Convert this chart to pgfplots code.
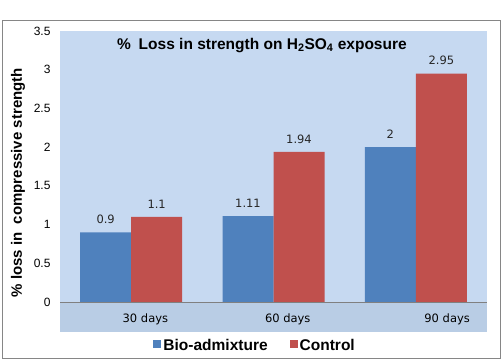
\documentclass[border=0pt]{standalone}
\usepackage{pgfplots}
\pgfplotsset{compat=1.18}
\usepackage{fontspec}
\setmainfont{Liberation Sans}
\newfontfamily\dejavu{DejaVu Sans}

\definecolor{bioblue}{HTML}{4F81BD}
\definecolor{ctrlred}{HTML}{C0504D}
\definecolor{wallbg}{HTML}{C6D9F1}
\definecolor{floorbg}{HTML}{B9CDE5}
\definecolor{framegray}{HTML}{868686}

\begin{document}
\begin{tikzpicture}[x=1pt,y=1pt]
  % canvas and chart frame
  \path (0,0) rectangle (503,360);
  \draw[framegray, line width=1pt] (2.5,1.5) rectangle (500.5,340);
  % back wall and floor of the plot area
  \fill[wallbg] (60,58) rectangle (487,329);
  \fill[floorbg] (60,28) rectangle (487,58);

  \begin{axis}[
    at={(60pt,58pt)}, anchor=south west,
    scale only axis, width=427pt, height=271pt,
    xmin=-0.5, xmax=2.5, ymin=0, ymax=3.5,
    ybar=0pt, bar width=51pt,
    axis line style={draw=none},
    major tick length=0pt,
    xtick={0.1,1.1,2.22},
    xticklabels={30 days,60 days,90 days},
    xticklabel style={font=\dejavu\fontsize{11.5}{13}\selectfont, yshift=-8pt},
    ytick={0,0.5,1,1.5,2,2.5,3,3.5},
    yticklabel style={font=\fontsize{12}{14}\selectfont, xshift=-6pt},
    /pgf/number format/assume math mode=true,
    nodes near coords,
    nodes near coords style={font=\dejavu\fontsize{11.5}{13}\selectfont, yshift=5pt, text=black!85},
    legend columns=2,
    legend style={draw=none, fill=none, at={(axis description cs:0.457,-0.162)}, anchor=center,
      font=\bfseries\fontsize{15.5}{17}\selectfont,
      /tikz/every even column/.append style={column sep=20pt}},
    legend image code/.code={\fill[#1] (0pt,-2pt) rectangle (8pt,6pt);},
    clip=false,
  ]
    \addplot[fill=bioblue, draw=none] coordinates {(0,0.9) (1,1.11) (2,2)};
    \addplot[fill=ctrlred, draw=none] coordinates {(0,1.1) (1,1.94) (2,2.95)};
    \legend{Bio-admixture, Control}
    \draw[gray] (axis cs:-0.5,0) -- (axis cs:2.5,0);
    \node[font=\bfseries\fontsize{15.5}{17}\selectfont] at (axis description cs:0.473,0.948)
      {\%\hspace{0.5em}Loss in strength on H\textsubscript{2}SO\textsubscript{4} exposure};
    \node[font=\bfseries\fontsize{15}{17}\selectfont, rotate=90] at (axis description cs:-0.098,0.44)
      {\%\ loss in\ \ compressive strength};
  \end{axis}
\end{tikzpicture}
\end{document}
